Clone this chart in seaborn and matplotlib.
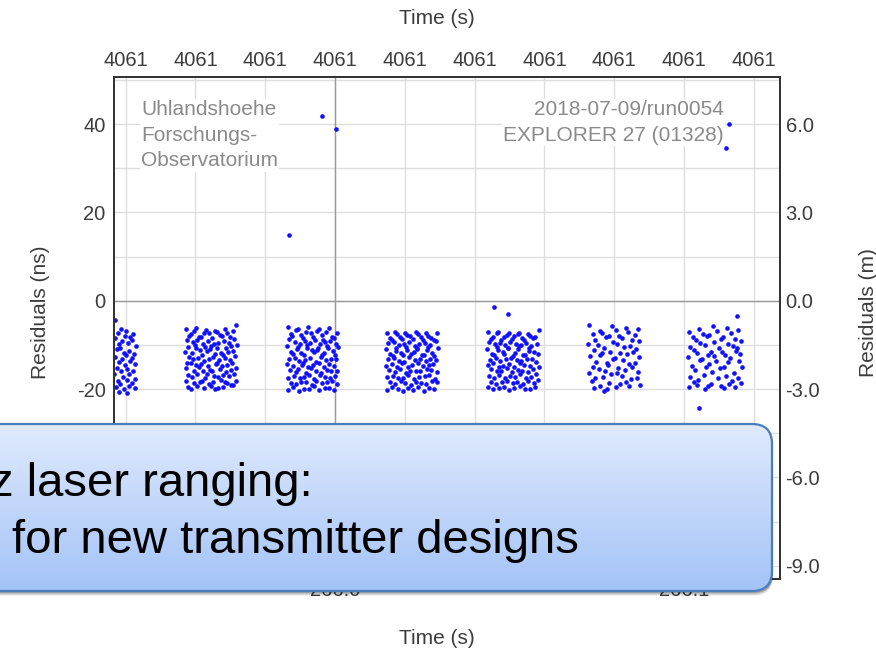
import numpy as np
import pandas as pd
import matplotlib
matplotlib.use("Agg")
import matplotlib.pyplot as plt
import seaborn as sns
from matplotlib.patches import FancyBboxPatch
from matplotlib.colors import LinearSegmentedColormap

# ---------------- data (time in ms after 265.9 s, residual in ns) ----------------
pass1 = [(37.0,-4.3),(37.9,-7.2),(36.9,-8.5),(38.2,-9.8),(37.4,-11.0),(37.1,-12.7),(38.0,-13.9),(37.6,-15.2),(36.8,-16.6),(37.8,-18.1),(37.2,-19.5),(38.1,-20.6),
         (38.6,-6.3),(39.7,-7.9),(39.1,-9.2),(38.4,-10.6),(39.5,-11.8),(38.9,-13.2),(39.8,-14.6),(38.7,-15.9),(39.3,-17.3),(38.5,-18.8),(39.6,-19.9),
         (40.2,-6.8),(41.3,-8.2),(40.7,-9.5),(41.0,-11.4),(40.1,-12.3),(41.4,-13.7),(40.5,-15.4),(41.1,-16.5),(40.3,-17.9),(40.9,-19.2),(40.4,-20.8),
         (42.2,-7.5),(41.8,-9.0),(42.9,-10.2),(42.4,-12.1),(41.7,-13.0),(42.7,-14.4),(42.0,-16.0),(42.6,-17.7),(41.9,-18.6),(42.8,-19.7)]

pass2 = [(57.2,-6.4),(58.1,-7.9),(57.5,-8.8),(57.9,-10.5),(57.1,-11.6),(58.3,-12.7),(57.6,-14.2),(57.3,-15.3),(58.0,-16.9),(57.4,-18.1),(57.8,-19.6),
         (59.6,-6.9),(58.7,-7.6),(59.3,-9.4),(59.8,-10.1),(58.9,-11.9),(59.4,-13.3),(58.6,-14.0),(59.7,-15.8),(59.0,-17.2),(59.5,-18.6),(58.8,-19.9),
         (60.3,-6.2),(61.1,-8.3),(60.6,-9.0),(60.1,-10.8),(61.3,-11.2),(60.8,-12.9),(60.2,-14.6),(61.0,-15.1),(60.5,-16.5),(61.2,-18.3),(60.4,-19.4),
         (62.6,-7.2),(61.7,-8.1),(62.3,-9.7),(62.8,-10.4),(61.9,-12.2),(62.5,-13.6),(61.6,-14.4),(62.1,-16.0),(62.7,-17.5),(61.8,-18.2),(62.4,-19.8),
         (63.1,-6.6),(64.0,-7.4),(63.5,-9.2),(64.3,-10.9),(63.3,-11.4),(63.9,-13.1),(63.6,-14.8),(64.2,-15.6),(63.2,-16.7),(63.8,-18.8),(64.4,-19.3),
         (65.7,-6.8),(64.8,-8.5),(65.3,-9.9),(64.6,-10.3),(65.5,-12.0),(65.0,-12.8),(65.8,-14.3),(64.9,-15.9),(65.4,-17.0),(65.1,-18.4),(65.6,-20.0),
         (66.2,-7.0),(67.1,-7.7),(66.6,-9.5),(66.1,-10.7),(67.3,-11.8),(66.8,-13.4),(66.3,-14.1),(67.0,-15.4),(66.5,-17.3),(67.2,-18.0),(66.4,-19.7),
         (68.5,-6.5),(67.6,-8.0),(68.2,-9.1),(68.8,-10.6),(67.9,-12.4),(68.4,-13.0),(67.7,-14.7),(68.7,-16.2),(68.0,-16.8),(68.6,-18.5),(67.8,-19.5),
         (69.1,-7.3),(70.0,-8.2),(69.5,-9.6),(70.3,-10.2),(69.3,-11.7),(69.8,-13.5),(69.2,-14.5),(70.2,-15.7),(69.6,-17.1),(69.0,-18.7),(70.1,-19.1),
         (71.6,-5.4),(70.7,-6.9),(71.2,-8.7),(71.8,-10.0),(70.9,-11.3),(71.4,-12.6),(70.6,-14.0),(71.7,-15.2),(71.0,-16.6),(71.5,-18.2),(70.8,-19.0)]

pass3 = [(86.4,-5.9),(87.3,-7.5),(86.7,-8.6),(86.2,-10.2),(87.5,-11.5),(86.9,-13.2),(86.3,-14.3),(87.1,-15.7),(86.6,-17.4),(87.4,-18.6),(86.5,-20.2),
         (88.9,-6.7),(87.8,-8.0),(88.4,-9.3),(89.0,-10.9),(88.1,-12.1),(88.6,-12.9),(87.9,-14.8),(88.8,-16.1),(88.2,-17.0),(88.7,-18.9),(88.0,-19.6),
         (89.5,-6.3),(90.4,-7.8),(89.9,-9.8),(89.3,-10.4),(90.2,-11.8),(89.6,-13.7),(90.5,-14.5),(89.4,-15.5),(90.0,-17.6),(90.3,-18.3),(89.7,-20.4),
         (91.6,-7.1),(90.8,-8.4),(91.3,-9.1),(91.9,-10.7),(91.0,-12.4),(91.5,-13.4),(90.9,-14.1),(91.8,-16.3),(91.2,-17.2),(91.7,-18.4),(91.1,-19.9),
         (92.3,-6.0),(93.2,-7.3),(92.7,-9.5),(92.1,-10.0),(93.4,-11.2),(92.9,-13.0),(92.4,-14.9),(93.1,-15.3),(92.6,-16.8),(93.3,-19.0),(92.5,-20.0),
         (94.8,-6.9),(93.8,-8.2),(94.3,-9.0),(94.9,-11.1),(94.0,-11.7),(94.5,-13.8),(93.7,-14.6),(94.6,-15.9),(94.1,-17.8),(94.7,-18.1),(93.9,-19.4),
         (95.3,-6.5),(96.2,-7.7),(95.7,-9.7),(95.2,-10.6),(96.4,-12.3),(95.9,-12.7),(95.4,-14.2),(96.1,-16.4),(95.6,-16.9),(96.3,-18.7),(95.5,-20.3),
         (97.5,-7.0),(96.7,-8.8),(97.2,-9.4),(97.8,-10.3),(96.9,-11.9),(97.4,-13.5),(96.8,-15.0),(97.7,-15.6),(97.0,-17.3),(97.6,-18.5),(97.1,-19.7),
         (98.2,-6.2),(99.1,-8.1),(98.6,-9.2),(98.1,-10.8),(99.3,-11.4),(98.8,-13.1),(98.3,-14.4),(99.0,-15.8),(98.5,-17.5),(99.2,-18.2),(98.4,-19.8),
         (100.6,-7.4),(99.7,-8.5),(100.2,-9.9),(100.8,-10.5),(99.9,-12.2),(100.4,-13.3),(99.6,-14.7),(100.7,-16.0),(100.0,-17.1),(100.5,-18.8),(99.8,-20.1),
         (96.3,41.8),(100.3,38.9),(86.8,14.8)]

pass4 = [(114.8,-7.3),(115.7,-8.4),(115.1,-9.6),(114.6,-11.0),(115.9,-12.1),(115.3,-13.3),(114.7,-14.7),(115.6,-15.6),(115.0,-17.2),(115.8,-18.4),(114.9,-20.3),
         (117.3,-7.0),(116.2,-8.9),(116.8,-9.3),(117.4,-10.7),(116.5,-12.5),(117.0,-13.0),(116.3,-14.4),(117.2,-16.1),(116.6,-17.0),(117.1,-18.9),(116.4,-19.6),
         (117.8,-7.6),(118.7,-8.2),(118.2,-10.0),(117.6,-11.3),(118.9,-11.8),(118.4,-13.6),(117.9,-15.0),(118.6,-15.4),(118.1,-17.6),(118.8,-18.1),(118.0,-20.0),
         (120.1,-7.2),(119.2,-8.6),(119.7,-9.8),(120.4,-10.4),(119.4,-12.3),(119.9,-13.8),(119.3,-14.2),(120.3,-16.3),(119.6,-17.4),(120.2,-18.7),(119.5,-20.4),
         (120.7,-7.8),(121.6,-8.0),(121.1,-9.4),(120.6,-11.1),(121.8,-12.0),(121.3,-12.8),(120.8,-14.9),(121.5,-15.8),(121.0,-16.9),(121.7,-19.0),(120.9,-19.8),
         (123.2,-7.1),(122.3,-8.7),(122.8,-10.2),(123.4,-10.9),(122.5,-11.6),(123.0,-13.4),(122.2,-14.5),(123.3,-15.9),(122.7,-17.8),(123.1,-18.3),(122.4,-20.1),
         (123.7,-7.5),(124.6,-8.3),(124.1,-9.7),(123.6,-10.6),(124.8,-12.4),(124.3,-13.2),(123.8,-14.1),(124.5,-16.0),(124.0,-17.3),(124.7,-18.6),(123.9,-19.5),
         (126.2,-7.4),(125.3,-9.0),(125.8,-9.5),(126.4,-11.2),(125.5,-12.2),(126.0,-13.7),(125.2,-14.8),(126.3,-15.5),(125.7,-17.1),(126.1,-18.8),(125.4,-20.4),
         (126.7,-7.9),(127.6,-8.5),(127.1,-10.1),(126.6,-10.5),(127.9,-11.9),(127.3,-13.1),(126.8,-14.6),(127.5,-15.7),(127.0,-16.8),(127.8,-18.2),(126.9,-19.7),
         (129.2,-7.2),(128.3,-8.8),(128.8,-9.2),(129.4,-10.8),(128.5,-12.6),(129.0,-13.5),(128.2,-14.3),(129.3,-16.2),(128.7,-17.7),(129.1,-18.5),(128.4,-19.9)]

pass5 = [(143.8,-7.1),(144.7,-8.6),(144.2,-9.3),(143.6,-10.9),(144.9,-12.0),(144.4,-13.4),(143.7,-14.6),(144.6,-15.5),(144.0,-17.1),(144.8,-18.3),(143.9,-19.6),
         (146.3,-7.4),(145.3,-8.1),(145.8,-9.9),(146.5,-10.4),(145.5,-12.3),(146.1,-13.0),(145.2,-14.2),(146.4,-16.0),(145.7,-17.4),(146.2,-18.8),(145.4,-20.0),
         (146.8,-7.0),(147.7,-8.9),(147.2,-9.6),(146.7,-11.2),(148.0,-11.7),(147.4,-13.6),(146.9,-15.0),(147.6,-15.8),(147.1,-16.9),(147.9,-18.5),(147.0,-19.8),
         (149.3,-7.7),(148.3,-8.3),(148.8,-10.1),(149.5,-10.7),(148.5,-12.1),(149.1,-13.2),(148.2,-14.7),(149.4,-15.3),(148.7,-17.5),(149.2,-18.1),(148.4,-19.5),
         (149.8,-7.3),(150.7,-8.7),(150.2,-9.4),(149.6,-10.6),(151.0,-12.5),(150.4,-12.9),(149.9,-14.4),(150.6,-16.1),(150.1,-17.0),(150.9,-18.7),(150.0,-20.1),
         (152.3,-7.6),(151.3,-8.0),(151.8,-9.8),(152.5,-11.0),(151.5,-11.8),(152.1,-13.5),(151.2,-14.9),(152.4,-15.6),(151.7,-17.3),(152.2,-18.4),(151.4,-19.7),
         (152.8,-7.2),(153.7,-8.5),(153.2,-10.0),(152.7,-10.3),(154.0,-12.2),(153.4,-13.7),(152.9,-14.1),(153.6,-15.9),(153.1,-16.7),(153.9,-18.9),(153.0,-19.4),
         (155.3,-7.5),(154.3,-8.8),(154.8,-9.5),(155.5,-10.8),(154.5,-12.4),(155.1,-13.1),(154.2,-14.5),(155.4,-16.2),(154.7,-17.6),(155.2,-18.2),(154.4,-20.0),
         (155.8,-7.9),(156.7,-8.4),(156.2,-10.2),(155.7,-11.3),(157.0,-11.6),(156.4,-13.3),(155.9,-14.8),(156.6,-15.4),(156.1,-17.2),(156.9,-18.6),(156.0,-19.9),
         (158.5,-6.7),(157.3,-8.2),(157.9,-9.7),(158.2,-12.0),(157.5,-13.8),(158.4,-15.1),(157.6,-16.6),(158.1,-18.0),(157.4,-19.6),
         (145.6,-1.4),(149.6,-3.0)]

pass6 = [(172.9,-5.4),(173.8,-7.6),(172.6,-9.9),(174.1,-11.2),(173.2,-12.6),(173.9,-14.9),(172.7,-16.3),(173.5,-18.2),(174.2,-19.7),
         (175.8,-6.9),(174.6,-8.8),(175.3,-10.1),(176.0,-12.3),(174.9,-13.8),(175.6,-15.4),(174.5,-17.5),(175.9,-19.3),
         (176.5,-7.3),(177.6,-8.2),(177.0,-10.7),(176.4,-11.9),(177.9,-14.1),(177.3,-16.0),(176.7,-17.2),(177.8,-19.9),(177.1,-20.5),
         (179.4,-5.8),(178.5,-8.0),(179.8,-9.4),(178.9,-11.5),(179.6,-13.2),(178.3,-14.6),(179.2,-16.7),(178.6,-18.6),
         (180.4,-6.6),(181.5,-7.9),(180.9,-9.7),(181.8,-11.8),(180.2,-12.9),(181.2,-15.2),(180.7,-16.4),(181.6,-18.8),(180.5,-19.5),
         (183.3,-6.1),(182.2,-8.5),(182.9,-10.4),(183.6,-12.0),(182.5,-13.5),(183.1,-15.7),(182.1,-17.0),(183.5,-18.4),
         (184.1,-7.1),(185.2,-8.9),(184.6,-10.2),(185.5,-11.6),(184.3,-14.3),(185.0,-15.1),(184.8,-17.8),(184.2,-19.2),
         (186.8,-6.3),(185.9,-7.7),(187.2,-9.2),(186.3,-11.0),(187.0,-12.7),(186.1,-14.0),(186.9,-16.1),(186.5,-17.4),(187.3,-19.0)]

pass7 = [(201.4,-7.0),(202.6,-8.3),(201.8,-10.4),(202.9,-11.1),(201.2,-12.8),(202.3,-14.7),(201.6,-17.2),(202.8,-18.5),(201.3,-19.6),
         (204.2,-6.4),(203.3,-8.9),(204.7,-9.6),(203.8,-11.9),(204.5,-13.4),(203.2,-15.6),(204.0,-17.9),(203.6,-19.1),
         (205.4,-7.5),(206.6,-8.0),(205.9,-10.0),(206.8,-12.2),(205.2,-13.1),(206.2,-14.9),(205.6,-16.8),(206.9,-19.4),(206.0,-20.0),
         (208.3,-5.8),(207.3,-7.8),(208.7,-9.3),(207.8,-11.5),(208.5,-12.5),(207.2,-14.3),(208.1,-16.2),(207.6,-18.8),
         (209.4,-6.9),(210.5,-8.6),(209.9,-10.8),(210.8,-11.7),(209.2,-13.7),(210.2,-15.3),(209.7,-17.6),(210.6,-19.3),
         (212.3,-6.2),(211.2,-8.1),(212.7,-9.9),(211.8,-12.4),(212.5,-13.9),(211.4,-15.1),(212.1,-17.0),(212.9,-18.9),(211.6,-19.8),
         (213.4,-7.3),(214.5,-8.7),(213.9,-10.3),(214.8,-11.3),(213.2,-12.9),(214.2,-16.4),(213.7,-18.2),(214.6,-19.5),
         (215.6,-6.6),(216.4,-9.1),(215.2,-10.6),(216.1,-12.0),(215.8,-13.6),(216.5,-15.0),(215.4,-17.5),(216.2,-18.7),
         (215.2,-3.4),(204.3,-24.3),(212.9,40.0),(212.0,34.5)]

passes = [pass1, pass2, pass3, pass4, pass5, pass6, pass7]

x_ticks_s = [265.94, 265.96, 265.98, 266.00, 266.02, 266.04, 266.06, 266.08, 266.10, 266.12]
x_bottom_labels = ["", "", "", "266.0", "", "", "", "", "266.1", ""]
x_top_labels = ["4061"] * 10
y_ticks_ns = [-60, -50, -40, -30, -20, -10, 0, 10, 20, 30, 40, 50]
y_left_labels = ["", "", "", "", "-20", "", "0", "", "20", "", "40", ""]
y_right_ticks_m = [-9.0, -6.0, -3.0, 0.0, 3.0, 6.0]
NS_TO_M = 0.15

station_text = "Uhlandshoehe\nForschungs-\nObservatorium"
run_text = "2018-07-09/run0054\nEXPLORER 27 (01328)"
callout_line1 = "z laser ranging:"
callout_line2 = "for new transmitter designs"

rows = []
for i, p in enumerate(passes):
    for ms, ns in p:
        rows.append({"pass": i + 1, "time_s": 265.9 + ms / 1000.0, "res_ns": ns})
df = pd.DataFrame(rows)

# ---------------- figure ----------------
sns.set_theme(style="white")
plt.rcParams["font.family"] = ["Liberation Sans", "DejaVu Sans"]
TXT = "#3c3c3c"
FS = 14.5

W, H = 876, 651
fig = plt.figure(figsize=(W / 100, H / 100), dpi=100)
L, R, T, B = 114, 780, 77, 579
ax = fig.add_axes([L / W, 1 - B / H, (R - L) / W, (B - T) / H])
ax.set_facecolor("white")

sns.scatterplot(data=df, x="time_s", y="res_ns", color="#1010ff", s=11,
                linewidth=0, ax=ax, legend=False, zorder=4)

ax.set_xlim(265.93668, 266.12751)
ax.set_ylim(-63.0, 50.65)

ax.set_xticks(x_ticks_s)
ax.set_xticklabels(x_bottom_labels)
ax.set_yticks(y_ticks_ns)
ax.set_yticklabels(y_left_labels)
ax.tick_params(axis="both", length=0, labelsize=FS, labelcolor=TXT)
ax.tick_params(axis="x", pad=1.5)
ax.tick_params(axis="y", pad=6)
ax.grid(True, color="#dedede", linewidth=1.0, zorder=0)
ax.axvline(266.0, color="#9a9a9a", linewidth=1.0, zorder=1)
ax.axhline(0, color="#9a9a9a", linewidth=1.0, zorder=1)
ax.set_axisbelow(True)
ax.set_xlabel("")
ax.set_ylabel("")
for sp in ax.spines.values():
    sp.set_color("#333333")
    sp.set_linewidth(1.3)

top = ax.secondary_xaxis("top")
top.set_xticks(x_ticks_s)
top.set_xticklabels(x_top_labels)
top.tick_params(length=0, labelsize=FS, labelcolor=TXT, pad=5)
top.spines["top"].set_visible(False)

ax2 = ax.twinx()
ax2.set_ylim(ax.get_ylim()[0] * NS_TO_M, ax.get_ylim()[1] * NS_TO_M)
ax2.set_yticks(y_right_ticks_m)
ax2.set_yticklabels([f"{v:.1f}" for v in y_right_ticks_m])
ax2.tick_params(length=0, labelsize=FS, labelcolor=TXT, pad=4)
ax2.grid(False)
for sp in ax2.spines.values():
    sp.set_color("#333333")
    sp.set_linewidth(1.3)

fig.text(141 / W, 1 - 100 / H, station_text, ha="left", va="top", fontsize=15,
         color="#8a8a8a", linespacing=1.45, zorder=3,
         bbox=dict(facecolor="white", edgecolor="none", pad=1))
fig.text(724 / W, 1 - 100 / H, run_text, ha="right", va="top", fontsize=15,
         color="#8a8a8a", linespacing=1.45, multialignment="right", zorder=3,
         bbox=dict(facecolor="white", edgecolor="none", pad=1))

fig.text(437 / W, 1 - 18 / H, "Time (s)", ha="center", va="center", fontsize=15, color=TXT)
fig.text(437 / W, 1 - 638 / H, "Time (s)", ha="center", va="center", fontsize=15, color=TXT)
fig.text(40 / W, 1 - 312 / H, "Residuals (ns)", ha="center", va="center", rotation=90, fontsize=15, color=TXT)
fig.text(868 / W, 1 - 313 / H, "Residuals (m)", ha="center", va="center", rotation=90, fontsize=15, color=TXT)

# ---------------- callout overlay ----------------
ov = fig.add_axes([0, 0, 1, 1], zorder=10)
ov.set_xlim(0, W)
ov.set_ylim(H, 0)
ov.axis("off")
bx0, by0, bx1, by1 = -40, 424, 772, 591
for k, a in zip([5, 4, 3, 2], [0.06, 0.09, 0.12, 0.16]):
    sh = FancyBboxPatch((bx0 + 1, by0 + k), bx1 - bx0, by1 - by0,
                        boxstyle="round,pad=0,rounding_size=20",
                        facecolor="black", edgecolor="none", alpha=a)
    ov.add_patch(sh)
box = FancyBboxPatch((bx0, by0), bx1 - bx0, by1 - by0,
                     boxstyle="round,pad=0,rounding_size=20",
                     facecolor="white", edgecolor="none")
ov.add_patch(box)
cmap = LinearSegmentedColormap.from_list("g", ["#e0eafd", "#a3c3f7"])
grad = np.linspace(0, 1, 256).reshape(-1, 1)
im = ov.imshow(grad, extent=[bx0, bx1, by1, by0], aspect="auto", cmap=cmap, zorder=2)
im.set_clip_path(box)
edge = FancyBboxPatch((bx0, by0), bx1 - bx0, by1 - by0,
                      boxstyle="round,pad=0,rounding_size=20",
                      facecolor="none", edgecolor="#4a7ebb", linewidth=1.6, zorder=3)
ov.add_patch(edge)
ov.set_xlim(0, W)
ov.set_ylim(H, 0)
ov.text(-10, 496, callout_line1, fontsize=34, color="black", ha="left", va="baseline", zorder=4)
ov.text(12, 553, callout_line2, fontsize=34, color="black", ha="left", va="baseline", zorder=4)

fig.savefig("out.png", dpi=100)
